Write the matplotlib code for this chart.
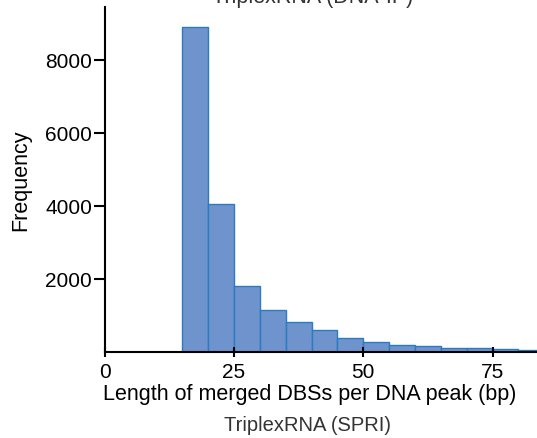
import numpy as np
import matplotlib
matplotlib.use("Agg")
import matplotlib.pyplot as plt

plt.rcParams['font.family'] = ['Liberation Sans', 'DejaVu Sans']

# histogram bins (bp) and counts
bin_edges = [15, 20, 25, 30, 35, 40, 45, 50, 55, 60, 65, 70, 75, 80, 85]
counts = [8900, 4050, 1815, 1150, 820, 600, 390, 280, 200, 155, 118, 120, 90, 55]
x_ticks = [0, 25, 50, 75]
y_ticks = [2000, 4000, 6000, 8000]

fig = plt.figure(figsize=(5.37, 4.39), dpi=100)
ax = fig.add_axes([0.195, 0.196, 0.805, 0.786])

ax.hist(bin_edges[:-1], bins=bin_edges, weights=counts,
        color='#6f93cc', edgecolor='#2a7bc0', linewidth=1.0)

ax.set_xlim(0, 83.6)
ax.set_ylim(0, 9450)
ax.set_xticks(x_ticks)
ax.set_yticks(y_ticks)

for s in ['top', 'right']:
    ax.spines[s].set_visible(False)
for s in ['left', 'bottom']:
    ax.spines[s].set_linewidth(1.5)

ax.tick_params(axis='y', direction='out', length=8, width=1.5, labelsize=15, pad=1)
ax.tick_params(axis='x', direction='inout', length=7, width=1.5, labelsize=15, pad=4)

ax.set_ylabel('Frequency', fontsize=15.5, labelpad=10)
ax.set_xlabel('Length of merged DBSs per DNA peak (bp)', fontsize=15.5, labelpad=1)
ax.xaxis.label.set_x(0.475)
ax.set_title('TriplexRNA (DNA-IP)', fontsize=15.5, color='#333333', pad=2, x=0.48)
fig.text(307 / 537, 1 - 426 / 439, 'TriplexRNA (SPRI)', ha='center',
         va='center', fontsize=14.5, color='#333333')

fig.savefig('out.png', dpi=100)
